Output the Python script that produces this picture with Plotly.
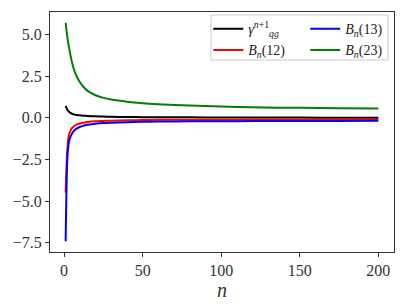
import plotly.graph_objects as go

n_vals = [1, 2, 3, 4, 5, 6, 7, 8, 10, 12, 15, 20, 25, 30, 40, 50, 60, 80, 100, 120, 150, 175, 200]

gamma_qg = [0.72, 0.50, 0.38, 0.30, 0.25, 0.21, 0.19, 0.17, 0.15, 0.13, 0.11, 0.09, 0.075, 0.06, 0.05, 0.04, 0.035, 0.03, 0.02, 0.02, 0.015, 0.01, 0.01]
B12 = [-4.49, -2.00, -1.05, -0.78, -0.62, -0.53, -0.46, -0.41, -0.34, -0.30, -0.25, -0.21, -0.19, -0.17, -0.15, -0.13, -0.12, -0.115, -0.11, -0.105, -0.10, -0.10, -0.10]
B13 = [-7.42, -2.60, -1.50, -1.15, -0.95, -0.82, -0.72, -0.65, -0.55, -0.48, -0.42, -0.35, -0.31, -0.29, -0.26, -0.24, -0.22, -0.21, -0.20, -0.195, -0.19, -0.185, -0.18]
B23 = [5.70, 4.90, 4.30, 3.80, 3.35, 3.00, 2.72, 2.50, 2.15, 1.90, 1.62, 1.36, 1.20, 1.10, 0.97, 0.88, 0.82, 0.74, 0.68, 0.63, 0.60, 0.58, 0.56]

x_ticks = [0, 50, 100, 150, 200]
y_ticks = [-7.5, -5.0, -2.5, 0.0, 2.5, 5.0]
y_tick_labels = ["\u22127.5", "\u22125.0", "\u22122.5", "0.0", "2.5", "5.0"]

series = [
    ("<i>\u03b3</i><sup><i>n</i>+1</sup><sub><i>qg</i></sub>", gamma_qg, "black", "legend"),
    ("<i>B<sub>n</sub></i>(12)", B12, "red", "legend"),
    ("<i>B<sub>n</sub></i>(13)", B13, "blue", "legend2"),
    ("<i>B<sub>n</sub></i>(23)", B23, "green", "legend2"),
]

fig = go.Figure()
for name, vals, col, leg in series:
    fig.add_trace(go.Scatter(x=n_vals, y=vals, mode="lines", name=name, legend=leg,
                             line=dict(color=col, width=2, shape="spline", smoothing=0.6)))

font_family = "Liberation Serif"
axis_common = dict(showline=True, linecolor="#333", linewidth=1, mirror=True,
                   ticks="outside", ticklen=4, tickcolor="#333", showgrid=False,
                   zeroline=False, automargin=False,
                   tickfont=dict(family=font_family, size=16, color="#333"))

fig.update_xaxes(range=[-8.95, 209.95], tickvals=x_ticks,
                 title=dict(text="<i>n</i>", font=dict(family=font_family, size=20, color="#333"), standoff=4),
                 **axis_common)
fig.update_yaxes(range=[-8.06, 6.36], tickvals=y_ticks, ticktext=y_tick_labels, **axis_common)

legend_common = dict(xanchor="left", yanchor="top", orientation="v",
                     bgcolor="rgba(0,0,0,0)", borderwidth=0,
                     font=dict(family=font_family, size=14, color="#222"),
                     itemwidth=30, tracegroupgap=0)

fig.add_shape(type="rect", xref="paper", yref="paper", x0=0.468, x1=0.983, y0=0.80, y1=0.9875,
              line=dict(color="#cccccc", width=1), fillcolor="rgba(255,255,255,0.8)", layer="above")

fig.update_layout(
    width=406, height=304,
    margin=dict(l=50, r=12, t=12, b=52, autoexpand=False),
    plot_bgcolor="white", paper_bgcolor="white",
    font=dict(family=font_family, color="#222"),
    legend=dict(x=0.46, y=0.995, **legend_common),
    legend2=dict(x=0.742, y=0.995, **legend_common),
)

fig.write_html("out.html", config={"displayModeBar": False},
               post_script="document.body.style.margin='0';")
